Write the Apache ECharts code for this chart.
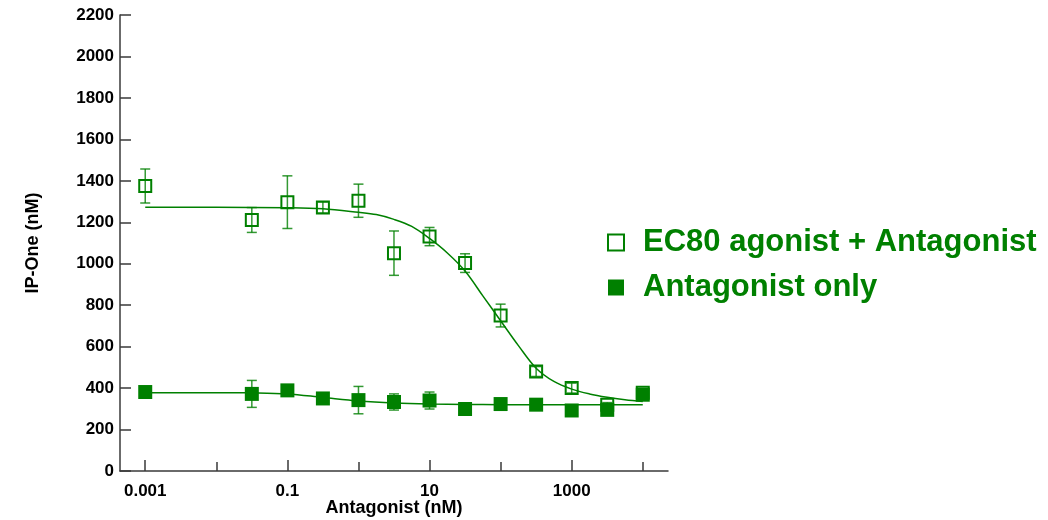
<!DOCTYPE html>
<html>
<head>
<meta charset="utf-8">
<title>IP-One antagonist dose response</title>
<script src="https://cdn.jsdelivr.net/npm/echarts@6/dist/echarts.min.js"></script>
<style>
  html, body { margin: 0; padding: 0; background: #ffffff; }
  #chart { width: 1048px; height: 520px; }
</style>
</head>
<body>
<div id="chart"></div>
<script>
// Antagonist concentrations (nM)
const conc = [0.001, 0.0316, 0.1, 0.316, 1, 3.16, 10, 31.6, 100, 316, 1000, 3162, 10000];

// EC80 agonist + antagonist: mean IP-One (nM) and error (+/-)
const agonistMean = [1375, 1211, 1297, 1271, 1304, 1051, 1131, 1003, 750, 480, 400, 320, 378];
const agonistErr  = [82, 60, 127, 27, 80, 107, 44, 45, 55, 24, 24, 10, 8];

// Antagonist only: mean IP-One (nM) and error (+/-)
const antagonistMean = [381, 372, 389, 350, 342, 333, 340, 299, 323, 320, 292, 295, 368];
const antagonistErr  = [16, 65, 0, 0, 66, 39, 41, 0, 0, 0, 0, 0, 0];

// Fitted dose-response curves, sampled along concentration (nM)
const agonistFitConc = [0.001, 0.01, 0.1, 0.316, 1, 1.78, 3.16, 5.62, 10, 17.8, 31.6, 56.2, 100, 178, 316, 562, 1000, 1778, 3162, 5623, 10000];
const agonistFit     = [1272, 1272, 1270, 1265, 1248, 1237, 1214, 1180, 1122, 1052, 965, 845, 725, 605, 496, 432, 395, 372, 356, 344, 335];
const antagonistFitConc = [0.001, 0.01, 0.0316, 0.1, 0.316, 1, 3.16, 10, 31.6, 100, 1000, 10000];
const antagonistFit     = [378, 378, 377, 372, 355, 338, 328, 323, 321, 320, 320, 320];

// Axis ticks
const xLabelConc = [0.001, 0.1, 10, 1000];
const xMinorConc = [0.01, 1, 100, 10000];
const xLabels = ['0.001', '0.1', '10', '1000'];
const yTicks = [0, 200, 400, 600, 800, 1000, 1200, 1400, 1600, 1800, 2000, 2200];

const names = ['EC80 agonist + Antagonist', 'Antagonist only'];
const green = '#008000';
const axisColor = '#3a3a3a';
const font = '"Liberation Sans", Arial, Helvetica, sans-serif';

const lg = v => Math.log10(v);
const pairs = (xs, ys) => xs.map((x, i) => [lg(x), ys[i]]);
const bars = (means, errs) => conc
  .map((c, i) => [lg(c), means[i] - errs[i], means[i] + errs[i], errs[i]])
  .filter(d => d[3] > 0);

const labelMap = {};
xLabelConc.forEach((c, i) => { labelMap[lg(c).toFixed(3)] = xLabels[i]; });

function errorBar(params, api) {
  const x = api.value(0);
  const lo = api.coord([x, api.value(1)]);
  const hi = api.coord([x, api.value(2)]);
  const cap = 5;
  const style = { stroke: 'rgba(0,128,0,0.8)', lineWidth: 1.5 };
  return {
    type: 'group',
    children: [
      { type: 'line', shape: { x1: lo[0], y1: lo[1], x2: hi[0], y2: hi[1] }, style },
      { type: 'line', shape: { x1: hi[0] - cap, y1: hi[1], x2: hi[0] + cap, y2: hi[1] }, style },
      { type: 'line', shape: { x1: lo[0] - cap, y1: lo[1], x2: lo[0] + cap, y2: lo[1] }, style }
    ]
  };
}

const xMin = -3.355, xMax = 4.355;

const option = {
  animation: false,
  backgroundColor: '#ffffff',
  textStyle: { fontFamily: font },
  grid: { left: 120, right: 380, top: 15, bottom: 49, containLabel: false, outerBoundsMode: 'none' },
  legend: {
    orient: 'vertical',
    left: 602,
    top: 222,
    itemWidth: 16,
    itemHeight: 16,
    itemGap: 14,
    selectedMode: false,
    textStyle: {
      fontFamily: font, fontSize: 31, fontWeight: 'bold', color: green,
      lineHeight: 30, padding: [0, 0, 0, 14]
    },
    data: [
      { name: names[0], icon: 'rect', itemStyle: { color: '#ffffff', borderColor: green, borderWidth: 2 } },
      { name: names[1], icon: 'rect', itemStyle: { color: green, borderWidth: 0 } }
    ]
  },
  xAxis: [
    {
      type: 'value', position: 'bottom', min: xMin, max: xMax,
      name: 'Antagonist (nM)', nameLocation: 'middle', nameGap: 28, nameMoveOverlap: false,
      nameTextStyle: { fontFamily: font, fontSize: 18, fontWeight: 'bold', color: '#000' },
      axisLine: { show: true, onZero: false, lineStyle: { color: axisColor, width: 1.5 } },
      axisTick: { show: true, inside: true, length: 11, customValues: xLabelConc.map(lg), lineStyle: { color: axisColor, width: 1.5 } },
      axisLabel: {
        show: true, margin: 12, customValues: xLabelConc.map(lg),
        fontFamily: font, fontSize: 17, fontWeight: 'bold', color: '#000',
        formatter: v => labelMap[Number(v).toFixed(3)] || ''
      },
      splitLine: { show: false }
    },
    {
      type: 'value', position: 'bottom', min: xMin, max: xMax,
      axisLine: { show: false, onZero: false },
      axisTick: { show: true, inside: true, length: 9, customValues: xMinorConc.map(lg), lineStyle: { color: axisColor, width: 1.5 } },
      axisLabel: { show: false },
      splitLine: { show: false }
    }
  ],
  yAxis: {
    type: 'value', position: 'left', min: yTicks[0], max: yTicks[yTicks.length - 1], interval: yTicks[1] - yTicks[0],
    name: 'IP-One (nM)', nameLocation: 'middle', nameGap: 78, nameRotate: 90, nameMoveOverlap: false,
    nameTextStyle: { fontFamily: font, fontSize: 18, fontWeight: 'bold', color: '#000' },
    axisLine: { show: true, onZero: false, lineStyle: { color: axisColor, width: 1.5 } },
    axisTick: { show: true, inside: true, length: 11, lineStyle: { color: axisColor, width: 1.5 } },
    axisLabel: {
      margin: 6, fontFamily: font, fontSize: 17, fontWeight: 'bold', color: '#000',
      formatter: v => String(v)
    },
    splitLine: { show: false }
  },
  series: [
    {
      name: 'agonist fit', type: 'line', data: pairs(agonistFitConc, agonistFit),
      smooth: 0.35, symbol: 'none', lineStyle: { color: green, width: 1.5 }, z: 2, silent: true
    },
    {
      name: 'antagonist fit', type: 'line', data: pairs(antagonistFitConc, antagonistFit),
      smooth: 0.35, symbol: 'none', lineStyle: { color: green, width: 1.5 }, z: 2, silent: true
    },
    {
      name: 'agonist error', type: 'custom', renderItem: errorBar,
      encode: { x: 0, y: [1, 2] }, data: bars(agonistMean, agonistErr), z: 3, silent: true
    },
    {
      name: 'antagonist error', type: 'custom', renderItem: errorBar,
      encode: { x: 0, y: [1, 2] }, data: bars(antagonistMean, antagonistErr), z: 3, silent: true
    },
    {
      name: names[1], type: 'scatter', data: pairs(conc, antagonistMean),
      symbol: 'rect', symbolSize: 14,
      itemStyle: { color: green, opacity: 1 }, z: 4
    },
    {
      name: names[0], type: 'scatter', data: pairs(conc, agonistMean),
      symbol: 'rect', symbolSize: 12,
      itemStyle: { color: 'rgba(0,0,0,0)', borderColor: green, borderWidth: 2, opacity: 1 }, z: 5
    }
  ]
};

echarts.init(document.getElementById('chart'), null, { renderer: 'canvas' }).setOption(option);
</script>
</body>
</html>
